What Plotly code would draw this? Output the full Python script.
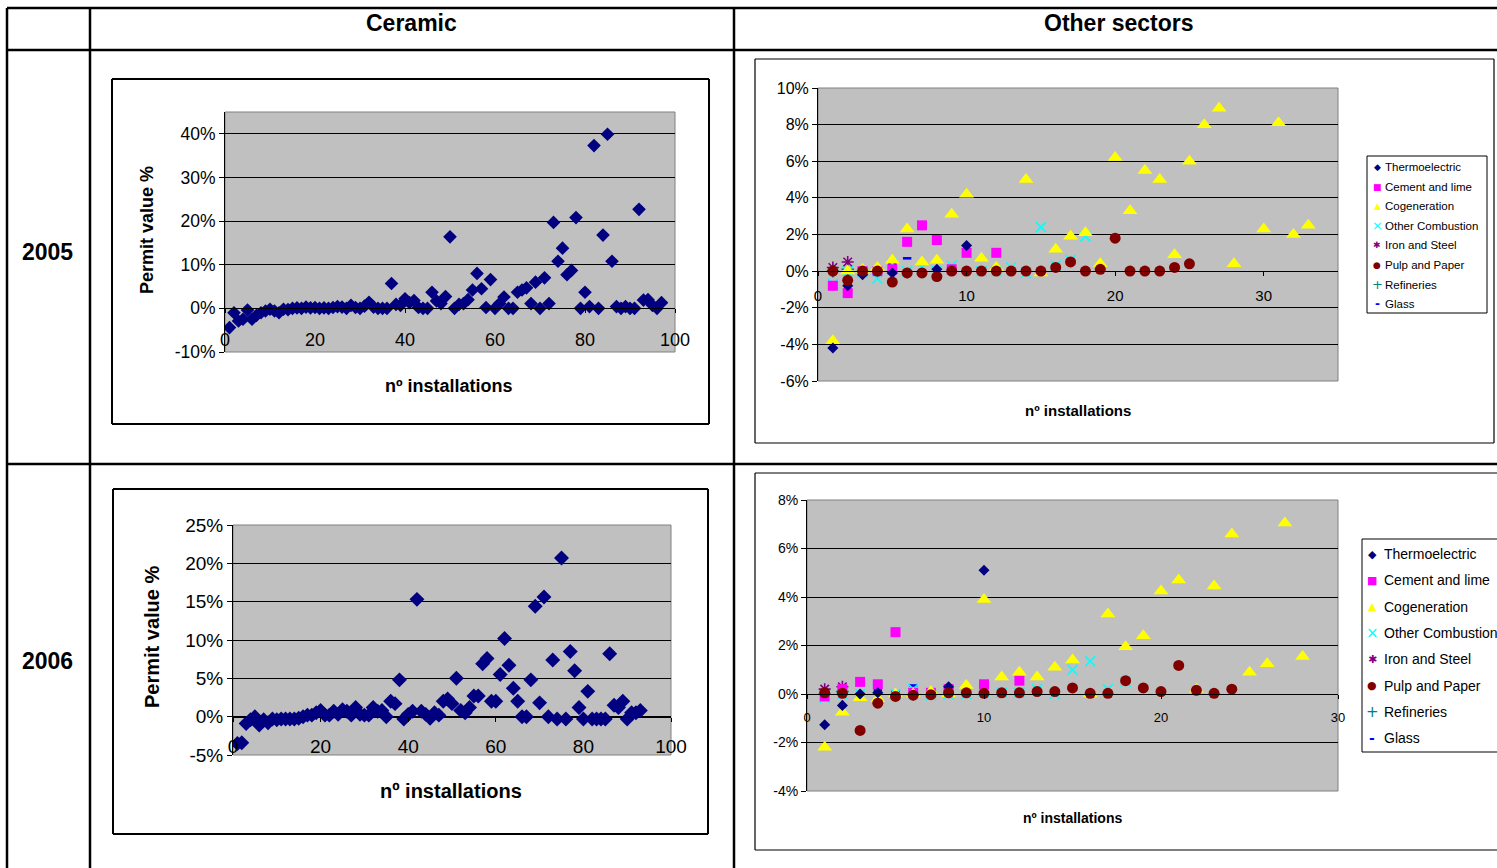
import plotly.graph_objects as go

W, H = 1497, 868

# ---------------- DATA ----------------
ceramic_2005 = [-4.4, -1.0, -2.9, -2.5, -0.4, -2.5, -1.6, -1.0, -0.6, -0.2,
                -0.6, -1.0, -0.2, -0.3, 0.0, 0.1, 0.0, 0.3, 0.1, 0.2,
                0.0, 0.1, 0.0, 0.2, 0.4, 0.3, 0.0, 0.7, 0.2, 0.0,
                0.5, 1.4, 0.3, 0.0, 0.0, 0.0, 5.7, 0.9, 0.7, 2.2,
                1.3, 1.8, 0.2, 0.0, 0.0, 3.7, 1.7, 1.1, 2.7, 16.4,
                0.0, 0.9, 1.1, 2.0, 4.2, 8.0, 4.5, 0.2, 6.6, 0.0,
                1.1, 2.6, 0.0, 0.0, 3.7, 4.2, 4.7, 1.1, 6.0, 0.0,
                7.0, 1.1, 19.7, 10.8, 13.8, 7.7, 8.7, 20.8, 0.0, 3.7,
                0.4, 37.3, 0.0, 16.8, 39.9, 10.8, 0.4, 0.0, 0.4, 0.0,
                0.0, 22.7, 1.9, 2.0, 0.7, 0.0, 1.3]
ceramic_2005_x = list(range(1, len(ceramic_2005) + 1))

ceramic_2006 = [-3.5, -3.4, -0.9, -0.4, 0.0, -1.1, -0.4, -0.8, -0.3, -0.4,
                -0.3, -0.3, -0.3, -0.3, -0.2, 0.0, 0.2, 0.2, 0.5, 0.8,
                0.2, 0.2, 0.7, 0.3, 0.9, 0.7, 0.2, 1.2, 0.3, 0.2,
                0.2, 1.2, 0.7, 0.8, 0.0, 2.0, 1.7, 4.8, -0.3, 0.3,
                0.7, 15.3, 0.7, 0.3, -0.2, 0.5, 0.2, 2.0, 2.3, 1.7,
                5.0, 0.8, 0.5, 1.2, 2.7, 2.7, 6.9, 7.6, 2.0, 2.0,
                5.5, 10.2, 6.7, 3.7, 2.0, 0.0, 0.0, 4.8, 14.4, 1.8,
                15.6, 0.0, 7.4, -0.3, 20.7, -0.3, 8.5, 6.0, 1.2, -0.3,
                3.3, -0.3, -0.3, -0.3, -0.3, 8.2, 1.5, 1.2, 2.0, -0.3,
                0.5, 0.5, 0.8]
ceramic_2006_x = list(range(1, len(ceramic_2006) + 1))

sector_names = ["Thermoelectric", "Cement and lime", "Cogeneration", "Other Combustion",
                "Iron and Steel", "Pulp and Paper", "Refineries", "Glass"]

# Other sectors 2005
thermo_05_x = [1, 1, 2, 3, 5, 6, 8, 10]
thermo_05_y = [-4.2, 0.0, -0.8, -0.2, -0.1, -0.1, 0.1, 1.4]
cement_05_x = [1, 2, 3, 4, 5, 6, 7, 8, 9, 10, 12]
cement_05_y = [-0.8, -1.2, 0.0, 0.0, 0.1, 1.6, 2.5, 1.7, 0.1, 1.0, 1.0]
cogen_05_x = [1, 2, 3, 4, 5, 6, 7, 8, 9, 10, 11, 12, 14, 15, 16, 17, 18, 19, 20, 21,
              22, 23, 24, 25, 26, 27, 28, 30, 31, 32, 33]
cogen_05_y = [-3.8, 0.0, 0.1, 0.2, 0.6, 2.3, 0.5, 0.6, 3.1, 4.2, 0.7, 0.2, 5.0, -0.1, 1.2,
              1.9, 2.1, 0.4, 6.2, 3.3, 5.5, 5.0, 0.9, 6.0, 8.0, 8.9, 0.4, 2.3, 8.1, 2.0, 2.5]
other_05_x = [1, 2, 3, 4, 5, 6, 7, 8, 9, 10, 11, 12, 13, 14, 15, 16, 17, 18]
other_05_y = [-0.7, 0.0, -0.1, -0.4, 0.4, 0.0, 0.2, 0.0, 0.3, 1.0, 0.0, 0.0, 0.2, -0.1,
              2.4, 0.3, 0.6, 1.9]
iron_05_x = [1, 2]
iron_05_y = [0.2, 0.5]
pulp_05_x = [1, 2, 3, 4, 5, 6, 7, 8, 9, 10, 11, 12, 13, 14, 15, 16, 17, 18, 19, 20,
             21, 22, 23, 24, 25]
pulp_05_y = [0.0, -0.5, 0.0, 0.0, -0.6, -0.1, -0.1, -0.3, 0.0, 0.0, 0.0, 0.0, 0.0, 0.0,
             0.0, 0.2, 0.5, 0.0, 0.1, 1.8, 0.0, 0.0, 0.0, 0.2, 0.4]
refin_05_x = [1, 2, 3, 4]
refin_05_y = [0.0, 0.1, 0.0, 0.0]
glass_05_x = [1, 2, 3, 4, 5, 6]
glass_05_y = [-0.1, -0.1, 0.0, 0.0, 0.4, 0.7]

# Other sectors 2006
thermo_06_x = [1, 2, 3, 4, 6, 8, 10]
thermo_06_y = [-1.27, -0.47, 0.0, 0.05, -0.05, 0.3, 5.1]
cement_06_x = [1, 2, 3, 4, 5, 6, 7, 8, 10, 12]
cement_06_y = [-0.1, 0.2, 0.5, 0.4, 2.55, 0.05, 0.05, 0.2, 0.4, 0.55]
cogen_06_x = [1, 2, 3, 4, 5, 6, 7, 8, 9, 10, 11, 12, 13, 14, 15, 16, 17, 18, 19, 20,
              21, 22, 23, 24, 25, 26, 27, 28]
cogen_06_y = [-2.2, -0.75, -0.15, -0.2, 0.0, 0.0, 0.1, 0.0, 0.35, 3.9, 0.7, 0.9, 0.7, 1.1,
              1.4, 0.0, 3.3, 1.95, 2.4, 4.25, 4.7, 0.2, 4.45, 6.6, 0.9, 1.25, 7.05, 1.55]
other_06_x = [1, 2, 3, 4, 5, 6, 7, 8, 9, 10, 11, 12, 13, 14, 15, 16, 17, 18]
other_06_y = [-0.15, 0.0, 0.0, 0.2, 0.0, 0.2, -0.05, 0.0, 0.0, 0.1, 0.05, 0.05, 0.2, 0.0,
              1.0, 1.35, 0.2, 0.5]
iron_06_x = [1, 2]
iron_06_y = [0.2, 0.3]
pulp_06_x = [1, 2, 3, 4, 5, 6, 7, 8, 9, 10, 11, 12, 13, 14, 15, 16, 17, 18, 19, 20,
             21, 22, 23, 24]
pulp_06_y = [0.05, 0.03, -1.5, -0.38, -0.1, -0.05, -0.03, 0.05, 0.05, 0.03, 0.05, 0.05,
             0.1, 0.1, 0.25, 0.03, 0.03, 0.55, 0.25, 0.1, 1.18, 0.15, 0.03, 0.2]
refin_06_x = [1, 2]
refin_06_y = [0.0, 0.1]
glass_06_x = [1, 2, 3, 4, 5, 6]
glass_06_y = [-0.05, 0.0, 0.0, 0.15, 0.1, 0.35]

# tick values / labels
ceramic05_yticks = [-10, 0, 10, 20, 30, 40]
ceramic05_ylabels = ["-10%", "0%", "10%", "20%", "30%", "40%"]
ceramic06_yticks = [-5, 0, 5, 10, 15, 20, 25]
ceramic06_ylabels = ["-5%", "0%", "5%", "10%", "15%", "20%", "25%"]
other05_yticks = [-6, -4, -2, 0, 2, 4, 6, 8, 10]
other05_ylabels = ["-6%", "-4%", "-2%", "0%", "2%", "4%", "6%", "8%", "10%"]
other06_yticks = [-4, -2, 0, 2, 4, 6, 8]
other06_ylabels = ["-4%", "-2%", "0%", "2%", "4%", "6%", "8%"]

col_headers = ["Ceramic", "Other sectors"]
row_headers = ["2005", "2006"]
y_title = "Permit value %"
x_title = "nº installations"

# ---------------- HELPERS ----------------
def px(p):
    return min(max(p, 0), W) / W


def py(p):
    return 1 - min(max(p, 0), H) / H


FONT = "Liberation Sans, Arial, sans-serif"

# style per sector: (symbol, fill color, line color, line width, base size)
styles = {
    "Thermoelectric": ("diamond", "#000080", "#000080", 0, 8.5),
    "Cement and lime": ("square", "#FF00FF", "#FF00FF", 0, 10),
    "Cogeneration": ("triangle-up", "#FFFF00", "#FFFF00", 0, 13),
    "Other Combustion": ("x-thin", "#00FFFF", "#00FFFF", 1.6, 10),
    "Iron and Steel": ("asterisk", "#800080", "#800080", 1.6, 10),
    "Pulp and Paper": ("circle", "#800000", "#800000", 0, 11),
    "Refineries": ("cross-thin", "#008080", "#008080", 1.6, 9),
    "Glass": ("line-ew", "#0000FF", "#0000FF", 2.6, 6),
}
glyphs = {
    "Thermoelectric": "◆", "Cement and lime": "■", "Cogeneration": "▲",
    "Other Combustion": "×", "Iron and Steel": "✱", "Pulp and Paper": "●",
    "Refineries": "+", "Glass": "-",
}

data_05 = {
    "Thermoelectric": (thermo_05_x, thermo_05_y),
    "Cement and lime": (cement_05_x, cement_05_y),
    "Cogeneration": (cogen_05_x, cogen_05_y),
    "Other Combustion": (other_05_x, other_05_y),
    "Iron and Steel": (iron_05_x, iron_05_y),
    "Pulp and Paper": (pulp_05_x, pulp_05_y),
    "Refineries": (refin_05_x, refin_05_y),
    "Glass": (glass_05_x, glass_05_y),
}
data_06 = {
    "Thermoelectric": (thermo_06_x, thermo_06_y),
    "Cement and lime": (cement_06_x, cement_06_y),
    "Cogeneration": (cogen_06_x, cogen_06_y),
    "Other Combustion": (other_06_x, other_06_y),
    "Iron and Steel": (iron_06_x, iron_06_y),
    "Pulp and Paper": (pulp_06_x, pulp_06_y),
    "Refineries": (refin_06_x, refin_06_y),
    "Glass": (glass_06_x, glass_06_y),
}

# subplot geometry (pixels) and axis setup
charts = {
    1: dict(xd=(225, 675), yd=(112, 352), xr=[0, 100], yr=[-10, 45], xdt=20,
            yt=ceramic05_yticks, yl=ceramic05_ylabels, yfont=17.5, xfont=18, standoff=11),
    2: dict(xd=(818, 1338), yd=(88, 381), xr=[0, 35], yr=[-6, 10], xdt=10,
            yt=other05_yticks, yl=other05_ylabels, yfont=16, xfont=15, standoff=7),
    3: dict(xd=(233, 671), yd=(525, 755), xr=[0, 100], yr=[-5, 25], xdt=20,
            yt=ceramic06_yticks, yl=ceramic06_ylabels, yfont=19, xfont=19, standoff=9),
    4: dict(xd=(807, 1338), yd=(500, 791), xr=[0, 30], yr=[-4, 8], xdt=10,
            yt=other06_yticks, yl=other06_ylabels, yfont=14, xfont=13, standoff=7),
}

fig = go.Figure()

# ceramic traces
fig.add_trace(go.Scatter(x=ceramic_2005_x, y=ceramic_2005, mode="markers",
                         marker=dict(symbol="diamond", size=10.5, color="#000080"),
                         xaxis="x", yaxis="y", showlegend=False, name="Ceramic 2005"))
fig.add_trace(go.Scatter(x=ceramic_2006_x, y=ceramic_2006, mode="markers",
                         marker=dict(symbol="diamond", size=11.5, color="#000080"),
                         xaxis="x3", yaxis="y3", showlegend=False, name="Ceramic 2006"))


def add_sector_traces(data, xa, ya, scale):
    for name in ["Glass", "Refineries", "Other Combustion", "Iron and Steel",
                 "Cement and lime", "Cogeneration", "Thermoelectric", "Pulp and Paper"]:
        xs, ys = data[name]
        sym, fc, lc, lw, sz = styles[name]
        fig.add_trace(go.Scatter(
            x=xs, y=ys, mode="markers", name=name, showlegend=False,
            marker=dict(symbol=sym, size=sz * scale, color=fc,
                        line=dict(color=lc, width=lw)),
            xaxis=xa, yaxis=ya))


add_sector_traces(data_05, "x2", "y2", 1.0)
add_sector_traces(data_06, "x4", "y4", 1.0)

layout = dict(
    width=W, height=H, autosize=False,
    margin=dict(l=0, r=0, t=0, b=0, pad=0, autoexpand=False),
    paper_bgcolor="white", plot_bgcolor="#C0C0C0",
    font=dict(family=FONT, color="black"),
    showlegend=False,
)

shapes = []
annotations = []

for i, c in charts.items():
    xs = "" if i == 1 else str(i)
    xd = [px(c["xd"][0]), px(c["xd"][1])]
    yd = [py(c["yd"][1]), py(c["yd"][0])]
    y0 = yd[0] + (0 - c["yr"][0]) / (c["yr"][1] - c["yr"][0]) * (yd[1] - yd[0])
    layout["xaxis" + xs] = dict(
        domain=xd, range=c["xr"], dtick=c["xdt"], tick0=0,
        anchor="free", position=y0,
        showgrid=False, zeroline=False, showline=True, linecolor="black", linewidth=1,
        ticks="outside", ticklen=4, tickcolor="black",
        tickfont=dict(size=c["xfont"], family=FONT, color="black"),
        ticklabelstandoff=c["standoff"],
    )
    layout["yaxis" + xs] = dict(
        domain=yd, range=c["yr"], tickmode="array", tickvals=c["yt"], ticktext=c["yl"],
        anchor="x" + xs,
        showgrid=True, gridcolor="black", gridwidth=1,
        zeroline=False, showline=True, linecolor="black", linewidth=1,
        ticks="outside", ticklen=5, tickcolor="black",
        tickfont=dict(size=c["yfont"], family=FONT, color="black"),
    )
    shapes.append(dict(type="rect", xref="paper", yref="paper",
                       x0=xd[0], x1=xd[1], y0=yd[0], y1=yd[1],
                       line=dict(color="#808080", width=1), layer="below"))

fig.update_layout(**layout)


def seg(x0, y0, x1, y1, color="black", width=1.0, layer="above"):
    shapes.append(dict(type="line", xref="paper", yref="paper",
                       x0=px(x0), x1=px(x1), y0=py(y0), y1=py(y1),
                       line=dict(color=color, width=width), layer=layer))


def box(x0, y0, x1, y1, width, fill=None, right=True):
    if fill:
        shapes.append(dict(type="rect", xref="paper", yref="paper",
                           x0=px(x0), x1=px(x1), y0=py(y1), y1=py(y0),
                           line=dict(width=0), fillcolor=fill, layer="above"))
    seg(x0, y0, x1, y0, width=width)
    seg(x0, y1, x1, y1, width=width)
    seg(x0, y0, x0, y1, width=width)
    if right:
        seg(x1, y0, x1, y1, width=width)


# chart outer boxes
box(112, 79, 709, 424, 2)
box(113, 489, 708, 834, 2)
box(755, 59, 1494, 443, 1.2)
box(755, 473, 1497, 850, 1.2, right=False)

# table lines
for (x0, y0, x1, y1) in [(7, 8, 1497, 8), (7, 50, 1497, 50), (7, 464, 1497, 464),
                         (7, 8, 7, 868), (90, 8, 90, 868), (734, 8, 734, 868)]:
    seg(x0, y0, x1, y1, width=2.5)

# table header texts
hdr_font = dict(family=FONT, size=23, color="black")
for text, x, y in [(col_headers[0], 411, 23), (col_headers[1], 1119, 23),
                   (row_headers[0], 48, 252), (row_headers[1], 48, 661)]:
    annotations.append(dict(text="<b>%s</b>" % text, x=px(x), y=py(y), xref="paper", yref="paper",
                            showarrow=False, xanchor="center", yanchor="middle", font=hdr_font))

# axis titles
for text, x, y, size, ang in [(y_title, 147, 230, 18, -90), (x_title, 449, 386, 18, 0),
                              (y_title, 152, 637, 20, -90), (x_title, 451, 791, 20, 0),
                              (x_title, 1078, 410, 15, 0), (x_title, 1072, 818, 14, 0)]:
    annotations.append(dict(text="<b>%s</b>" % text, x=px(x), y=py(y), xref="paper", yref="paper",
                            showarrow=False, xanchor="center", yanchor="middle", textangle=ang,
                            font=dict(family=FONT, size=size, color="black")))

# legends (boxes + entries)
legend_specs = [
    dict(box=(1367, 156, 1487, 313), right=True, y0=167, dy=19.6, gx=1377, tx=1383, fs=11.5, gs=9),
    dict(box=(1362, 539, 1497, 752), right=False, y0=554, dy=26.3, gx=1372, tx=1382, fs=14, gs=11),
]
for spec in legend_specs:
    bx0, by0, bx1, by1 = spec["box"]
    box(bx0, by0, bx1, by1, 1, fill="white", right=spec["right"])
    for k, name in enumerate(sector_names):
        yy = spec["y0"] + k * spec["dy"]
        g = glyphs[name]
        gsize = spec["gs"]
        if name in ("Other Combustion", "Refineries"):
            gsize = spec["gs"] + 4
        if name == "Glass":
            g = "<b>-</b>"
            gsize = spec["gs"] + 3
        annotations.append(dict(text=g, x=px(spec["gx"]), y=py(yy), xref="paper", yref="paper",
                                showarrow=False, xanchor="center", yanchor="middle",
                                font=dict(family="DejaVu Sans", size=gsize, color=styles[name][1])))
        annotations.append(dict(text=name, x=px(spec["tx"]), y=py(yy), xref="paper", yref="paper",
                                showarrow=False, xanchor="left", yanchor="middle",
                                font=dict(family=FONT, size=spec["fs"], color="black")))

fig.update_layout(shapes=shapes, annotations=annotations)
fig.write_html("out.html", config={"displayModeBar": False},
               post_script="document.body.style.margin='0';document.body.style.overflow='hidden';")
